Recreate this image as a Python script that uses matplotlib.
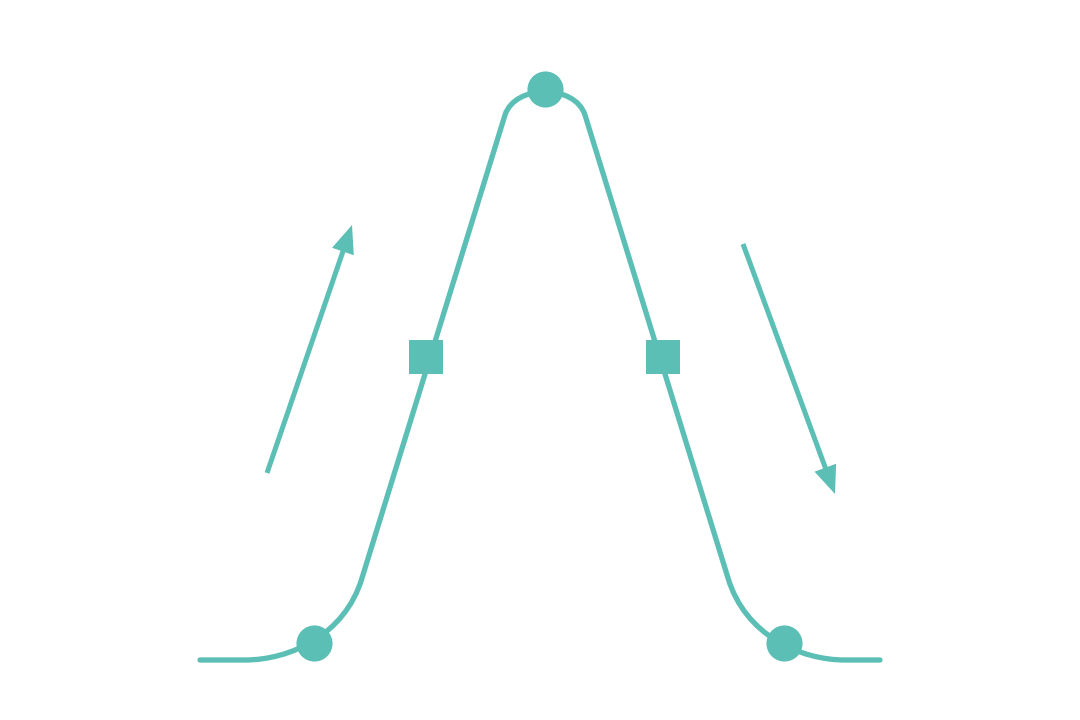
import matplotlib
matplotlib.use('Agg')
import matplotlib.pyplot as plt
from matplotlib.path import Path
from matplotlib.patches import PathPatch, FancyArrow

teal = '#5bbfb5'

# curve path in picture units (y grows downward)
curve_pts = [(200, 660), (245, 660),
             (290, 660), (345, 635), (362, 578),
             (505, 115),
             (515, 84), (575, 84), (585, 115),
             (728, 578),
             (745, 635), (800, 660), (845, 660),
             (880, 660)]
curve_codes = [Path.MOVETO, Path.LINETO,
               Path.CURVE4, Path.CURVE4, Path.CURVE4,
               Path.LINETO,
               Path.CURVE4, Path.CURVE4, Path.CURVE4,
               Path.LINETO,
               Path.CURVE4, Path.CURVE4, Path.CURVE4,
               Path.LINETO]

circle_x = [314, 545, 784]
circle_y = [643, 89, 643]
square_x = [426, 663]
square_y = [357, 357]

# arrows: start, end
arrow_up = [(267, 473), (352, 225)]
arrow_down = [(743, 244), (835, 494)]

fig = plt.figure(figsize=(10.8, 7.2), dpi=100)
ax = fig.add_axes([0, 0, 1, 1])
ax.set_xlim(0, 1080)
ax.set_ylim(720, 0)
ax.axis('off')

patch = PathPatch(Path(curve_pts, curve_codes), facecolor='none',
                  edgecolor=teal, lw=3.8, capstyle='round', zorder=2)
ax.add_patch(patch)

ax.plot(circle_x, circle_y, 'o', color=teal, ms=26, mew=0, zorder=3)
ax.plot(square_x, square_y, 's', color=teal, ms=25, mew=0, zorder=3)

for (x0, y0), (x1, y1) in [arrow_up, arrow_down]:
    ax.add_patch(FancyArrow(x0, y0, x1 - x0, y1 - y0, width=5,
                            head_width=23, head_length=28,
                            length_includes_head=True, color=teal, lw=0,
                            zorder=2))

fig.savefig('out.png', dpi=100)
